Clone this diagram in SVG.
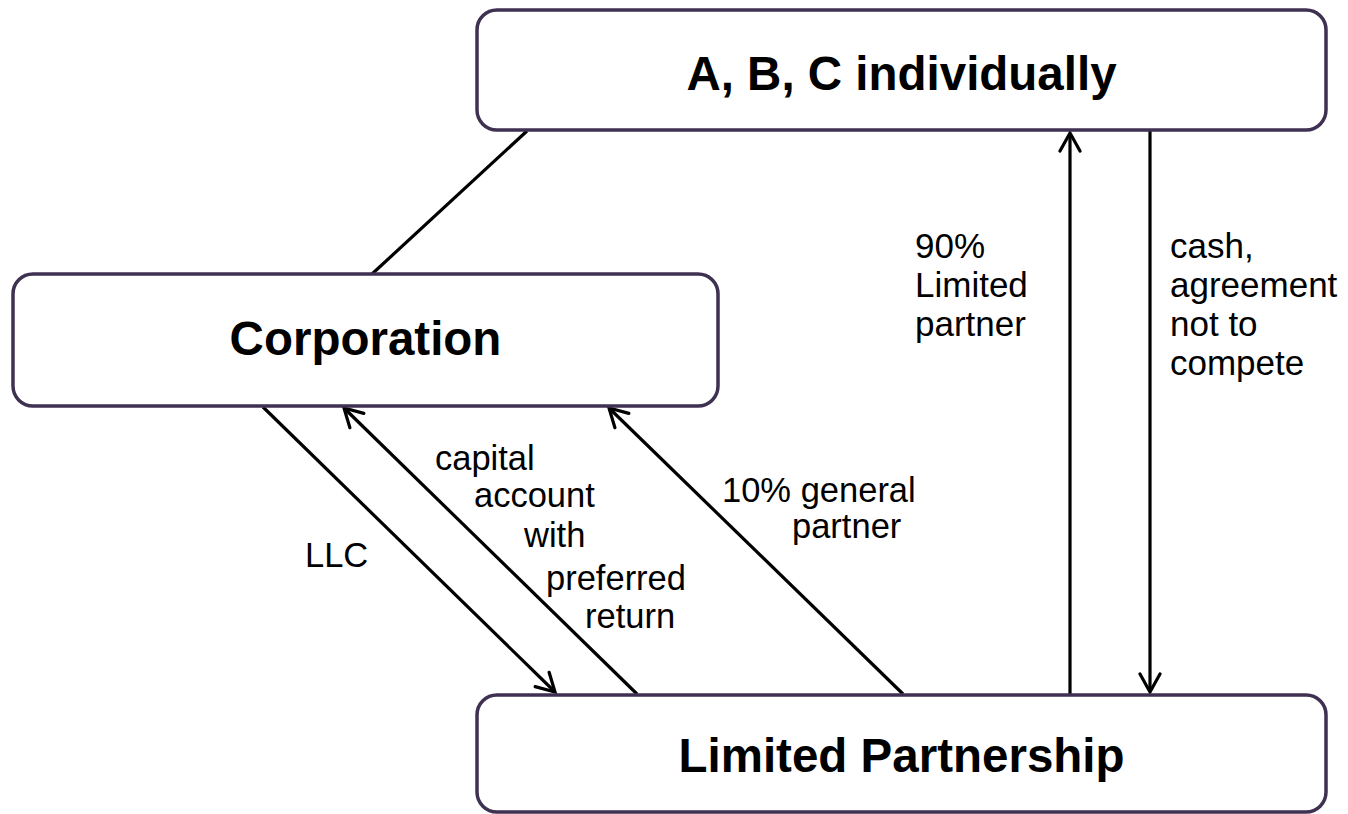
<svg xmlns="http://www.w3.org/2000/svg" width="1348" height="814" viewBox="0 0 1348 814">
<style>
.box{fill:#ffffff;stroke:#3f3151;stroke-width:3.5}
.title{font-family:"Liberation Sans",Arial,sans-serif;font-weight:bold;font-size:47.5px;fill:#000;text-anchor:middle}
.lbl{font-family:"Liberation Sans",Arial,sans-serif;font-size:34.5px;fill:#000}
.rl{font-family:"Liberation Sans",Arial,sans-serif;font-size:35px;fill:#000}
.conn{stroke:#000;stroke-width:3.2;fill:none}
</style>
<defs>
<marker id="arr" markerUnits="userSpaceOnUse" viewBox="-22 -12 26 24" refX="0" refY="0" markerWidth="26" markerHeight="24" orient="auto">
<path d="M-18,-10 L0,0 L-18,10" fill="none" stroke="#000" stroke-width="3.2" stroke-linecap="round" stroke-linejoin="miter"/>
</marker>
</defs>
<rect width="1348" height="814" fill="#ffffff"/>
<g id="connectors">
<line class="conn" x1="527" y1="131" x2="372" y2="274"/>
<line class="conn" x1="263" y1="407" x2="555" y2="692" marker-end="url(#arr)"/>
<line class="conn" x1="637" y1="694" x2="344" y2="408" marker-end="url(#arr)"/>
<line class="conn" x1="903" y1="694" x2="609" y2="408" marker-end="url(#arr)"/>
<line class="conn" x1="1070" y1="694" x2="1070" y2="133" marker-end="url(#arr)"/>
<line class="conn" x1="1150" y1="131" x2="1150" y2="692" marker-end="url(#arr)"/>
</g>
<g id="node-abc">
<rect class="box" x="477" y="10" width="849" height="120" rx="20"/>
<text class="title" x="901.5" y="90">A, B, C individually</text>
</g>
<g id="node-corporation">
<rect class="box" x="13" y="274" width="705" height="132" rx="20"/>
<text class="title" x="365.5" y="355">Corporation</text>
</g>
<g id="node-lp">
<rect class="box" x="477" y="695" width="849" height="117" rx="20"/>
<text class="title" x="901.5" y="772">Limited Partnership</text>
</g>
<g id="labels">
<text class="rl" x="915" y="258">90%</text>
<text class="rl" x="915" y="297">Limited</text>
<text class="rl" x="915" y="336">partner</text>
<text class="rl" x="1170" y="258">cash,</text>
<text class="rl" x="1170" y="297">agreement</text>
<text class="rl" x="1170" y="336">not to</text>
<text class="rl" x="1170" y="375">compete</text>
<text class="lbl" x="305" y="567">LLC</text>
<text class="lbl" x="435" y="470">capital</text>
<text class="lbl" x="474" y="507">account</text>
<text class="lbl" x="524" y="547">with</text>
<text class="lbl" x="546" y="590">preferred</text>
<text class="lbl" x="585" y="628">return</text>
<text class="lbl" x="722" y="502">10% general</text>
<text class="lbl" x="792" y="538">partner</text>
</g>
</svg>
